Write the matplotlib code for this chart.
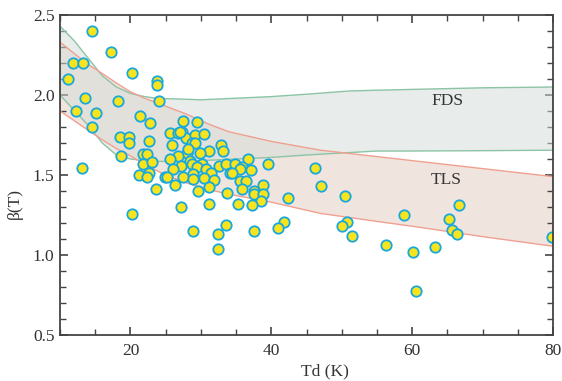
import matplotlib
matplotlib.use("Agg")
import matplotlib.pyplot as plt
from matplotlib.ticker import MultipleLocator, FormatStrFormatter

# ---- data ----
td = [14.5, 17.2, 11.9, 13.2, 11.2, 20.2, 23.8, 23.8, 13.5, 18.3, 24.0, 12.3, 15.1, 21.4, 22.8, 14.6,
      18.5, 19.8, 19.8, 22.6, 18.6, 21.8, 22.4, 21.8, 23.0, 13.1, 21.2, 22.7, 22.4, 24.9, 23.6, 20.2,
      27.4, 29.4, 25.6, 26.7, 27.3, 27.9, 29.1, 30.4, 25.9, 28.8, 29.2, 32.9, 33.2, 31.1, 29.9, 28.0,
      26.8, 25.6, 28.5, 28.8, 30.2, 32.6, 33.5, 27.2, 29.4, 30.7, 26.1, 34.1, 31.5, 28.9, 27.4, 30.4,
      31.8, 28.9, 25.2, 26.3, 28.2, 27.0,
      29.6, 31.2, 33.7, 27.2, 31.2, 35.3, 33.5, 28.9, 32.4, 32.4,
      36.7, 39.5, 34.8, 35.9, 35.6, 37.1, 34.4, 35.5, 36.4, 38.8, 35.8, 37.5, 37.5, 38.8, 38.6, 42.4,
      37.2, 41.8, 41.0, 37.6,
      46.2, 47.0, 50.5, 50.7, 50.1, 51.4, 56.3, 58.8, 60.1, 60.6, 63.2, 65.2, 65.7, 66.3, 66.6, 79.9]
beta = [2.40, 2.27, 2.20, 2.20, 2.10, 2.135, 2.09, 2.06, 1.98, 1.96, 1.96, 1.90, 1.89, 1.87, 1.825, 1.80,
        1.74, 1.74, 1.70, 1.71, 1.62, 1.63, 1.63, 1.567, 1.58, 1.545, 1.50, 1.51, 1.485, 1.49, 1.41, 1.255,
        1.836, 1.83, 1.76, 1.76, 1.77, 1.73, 1.75, 1.754, 1.69, 1.70, 1.70, 1.685, 1.65, 1.65, 1.64, 1.64,
        1.62, 1.60, 1.59, 1.57, 1.57, 1.556, 1.57, 1.556, 1.55, 1.54, 1.54, 1.51, 1.51, 1.506, 1.49, 1.48,
        1.47, 1.475, 1.49, 1.44, 1.66, 1.77,
        1.40, 1.425, 1.386, 1.30, 1.32, 1.32, 1.19, 1.15, 1.13, 1.035,
        1.60, 1.57, 1.57, 1.55, 1.54, 1.53, 1.51, 1.46, 1.465, 1.44, 1.41, 1.40, 1.38, 1.38, 1.34, 1.356,
        1.31, 1.206, 1.17, 1.15,
        1.546, 1.43, 1.37, 1.204, 1.18, 1.12, 1.06, 1.25, 1.019, 0.775, 1.05, 1.225, 1.156, 1.13, 1.31, 1.114]

fds_x = [10, 12, 14, 16, 18, 20, 22, 24, 27, 30, 35, 40, 45, 51, 55, 60, 70, 80]
fds_upper = [2.43, 2.34, 2.23, 2.12, 2.05, 2.01, 1.99, 1.978, 1.975, 1.97, 1.98, 1.99, 2.005, 2.025, 2.03, 2.035, 2.045, 2.05]
fds_lower = [2.00, 1.905, 1.81, 1.70, 1.625, 1.60, 1.59, 1.585, 1.585, 1.59, 1.60, 1.61, 1.625, 1.64, 1.65, 1.65, 1.652, 1.655]

tls_x = [10, 12, 14, 16, 18, 20, 22, 25, 28, 31, 34, 40, 47, 55, 60, 70, 80]
tls_upper = [2.33, 2.26, 2.19, 2.135, 2.075, 2.02, 1.98, 1.93, 1.88, 1.82, 1.77, 1.71, 1.655, 1.615, 1.59, 1.54, 1.49]
tls_lower = [1.90, 1.84, 1.78, 1.72, 1.665, 1.62, 1.565, 1.50, 1.45, 1.41, 1.38, 1.33, 1.26, 1.21, 1.18, 1.115, 1.055]

band_labels = ["FDS", "TLS"]
label_pos = [(65.0, 1.96), (64.8, 1.47)]

# ---- plot ----
plt.rcParams['font.family'] = ['Liberation Serif', 'DejaVu Serif']
fig = plt.figure(figsize=(5.62, 3.81), dpi=100)
ax = fig.add_axes([0.1068, 0.1207, 0.8772, 0.8399])

green_edge = '#8cc4a6'
red_edge = '#f0a090'

ax.fill(tls_x + tls_x[::-1], tls_upper + tls_lower[::-1], facecolor='#f0e4df', edgecolor='none', zorder=1)
ax.fill(fds_x + fds_x[::-1], fds_upper + fds_lower[::-1], facecolor='#d3ddd9', alpha=0.5, edgecolor='none', zorder=2)
ax.fill(fds_x + fds_x[::-1], fds_upper + fds_lower[::-1], facecolor='none', edgecolor=green_edge, lw=1.0, zorder=3)
ax.fill(tls_x + tls_x[::-1], tls_upper + tls_lower[::-1], facecolor='none', edgecolor=red_edge, lw=1.0, zorder=3)

ax.scatter(td, beta, s=56, facecolor='#f8e41e', edgecolor='#18a8dc', linewidth=1.3, zorder=5)

for lab, (x, y) in zip(band_labels, label_pos):
    ax.text(x, y, lab, ha='center', va='center', fontsize=12.5, color='#333333', zorder=6)

ax.set_xlim(10, 80)
ax.set_ylim(0.5, 2.5)
ax.xaxis.set_major_locator(MultipleLocator(20))
ax.xaxis.set_minor_locator(MultipleLocator(5))
ax.yaxis.set_major_locator(MultipleLocator(0.5))
ax.yaxis.set_minor_locator(MultipleLocator(0.1))
ax.yaxis.set_major_formatter(FormatStrFormatter('%.1f'))

for s in ax.spines.values():
    s.set_color('#444444')
    s.set_linewidth(1.3)
    s.set_zorder(7)

ax.tick_params(which='both', direction='in', top=True, right=True, colors='#444444',
               labelcolor='#333333', labelsize=12.5)
ax.tick_params(which='major', length=6, width=1.2, pad=4)
ax.tick_params(which='minor', length=4, width=1.0)
ax.tick_params(axis='x', which='major', pad=6)

ax.set_xlabel('Td (K)', fontsize=12.5, color='#333333')
ax.xaxis.set_label_coords(0.5375, -0.09)
ax.set_ylabel('β(T)', fontsize=12.5, color='#333333')
ax.yaxis.set_label_coords(-0.075, 0.4125)

fig.savefig('out.png', dpi=100)
